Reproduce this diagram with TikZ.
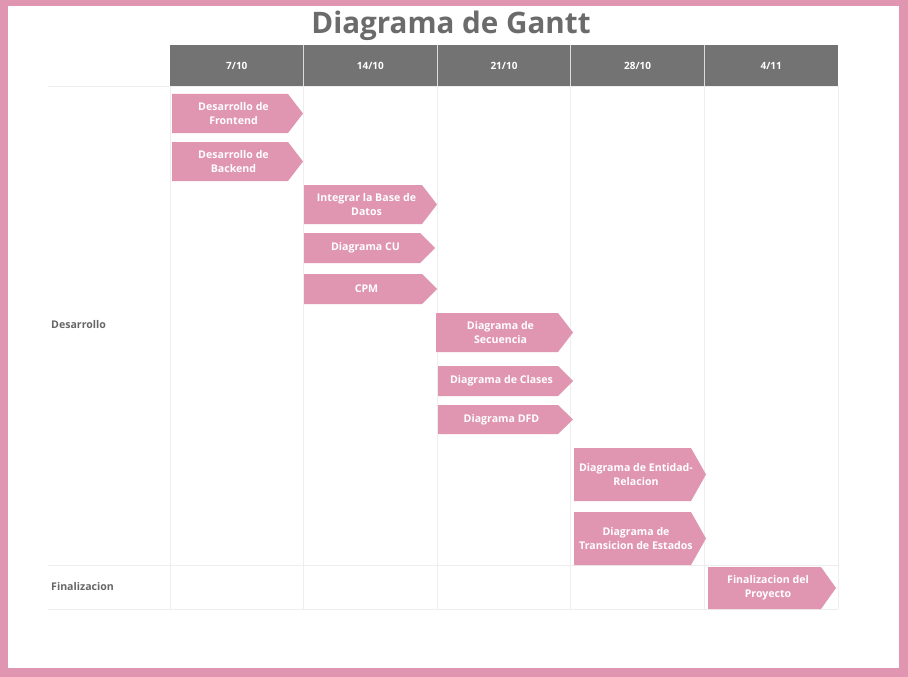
\documentclass[tikz,border=0pt]{standalone}
\usepackage{fontspec}
\setmainfont{Open Sans}
\definecolor{pinkc}{HTML}{E096B0}
\definecolor{headc}{HTML}{737373}
\definecolor{titlec}{HTML}{6B6B6B}
\definecolor{labc}{HTML}{666666}
\definecolor{gridc}{HTML}{EEEEEE}
\tikzset{
  barfill/.style={fill=pinkc, draw=none},
  bartext/.style={text=white, font=\bfseries\fontsize{10.6}{14}\selectfont, align=center, inner sep=0pt},
  headtext/.style={text=white, font=\bfseries\fontsize{10}{11}\selectfont, inner sep=0pt},
  rowlab/.style={text=labc, font=\bfseries\fontsize{10.6}{12}\selectfont, anchor=west, inner sep=0pt},
  gridline/.style={draw=gridc, line width=0.8pt},
}
% \ganttbar{name}{x1}{y1}{x2}{y2}{text}
\newcommand{\ganttbar}[6]{%
  \pgfmathsetmacro{\gbtip}{#4-15}%
  \pgfmathsetmacro{\gbmid}{(#3+#5)/2}%
  \pgfmathsetmacro{\gbcx}{(#2+#4-8)/2}%
  \fill[barfill] (#2,#3) -- (\gbtip,#3) -- (#4,\gbmid) -- (\gbtip,#5) -- (#2,#5) -- cycle;
  \node[bartext] (#1) at (\gbcx,\gbmid) {#6};
}
\begin{document}
\begin{tikzpicture}[x=1pt,y=-1pt]
\useasboundingbox (0,0) rectangle (908,677);
% frame
\fill[pinkc] (0,0) rectangle (908,677);
\fill[white] (8,6) rectangle (899,668);
% title
\node[text=titlec, font=\bfseries\fontsize{29.6}{32}\selectfont, inner sep=0pt] (title) at (451,25.5) {Diagrama de Gantt};
% header
\fill[headc] (170,45) rectangle (838,86);
\foreach \xx in {303.6,437.2,570.8,704.4}{
  \draw[draw=white!75!headc, line width=0.8pt] (\xx,45) -- (\xx,86);
}
\node[headtext] (h1) at (236.8,65.5) {7/10};
\node[headtext] (h2) at (370.4,65.5) {14/10};
\node[headtext] (h3) at (504,65.5) {21/10};
\node[headtext] (h4) at (637.6,65.5) {28/10};
\node[headtext] (h5) at (771.2,65.5) {4/11};
% grid
\draw[gridline] (48,86) -- (838,86);
\draw[gridline] (48,565) -- (838,565);
\draw[gridline] (48,609) -- (838,609);
\foreach \xx in {170,303.6,437.2,570.8,704.4,838}{
  \draw[gridline] (\xx,86) -- (\xx,609);
}
% row labels
\node[rowlab] (r1) at (51,325) {Desarrollo};
\node[rowlab] (r2) at (51,587) {Finalizacion};
% bars
\ganttbar{b1}{172}{94}{303}{133}{Desarrollo de\\Frontend}
\ganttbar{b2}{172}{142}{303}{181}{Desarrollo de\\Backend}
\ganttbar{b3}{304}{185}{437}{224}{Integrar la Base de\\Datos}
\ganttbar{b4}{304}{233}{435}{263}{Diagrama CU}
\ganttbar{b5}{304}{274}{437}{304}{CPM}
\ganttbar{b6}{436}{313}{573}{352}{Diagrama de\\Secuencia}
\ganttbar{b7}{438}{366}{573}{396}{Diagrama de Clases}
\ganttbar{b8}{438}{405}{573}{434}{Diagrama DFD}
\ganttbar{b9}{574}{448}{706}{501}{Diagrama de Entidad-\\Relacion}
\ganttbar{b10}{574}{512}{706}{565}{Diagrama de\\Transicion de Estados}
\ganttbar{b11}{708}{567}{836}{609}{Finalizacion del\\Proyecto}
\end{tikzpicture}
\end{document}
